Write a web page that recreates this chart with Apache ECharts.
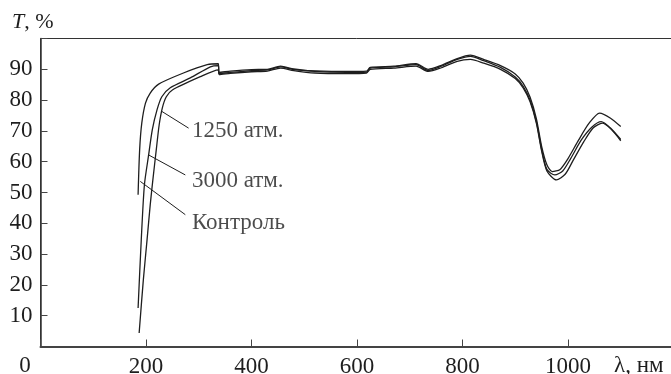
<!DOCTYPE html>
<html><head><meta charset="utf-8">
<script src="https://cdn.jsdelivr.net/npm/echarts@6/dist/echarts.min.js"></script>
<style>html,body{margin:0;padding:0;background:#fff}#c{width:671px;height:374px}</style>
</head><body><div id="c"></div>
<script>
// wavelength (nm), transmittance (%)
const control = [[185,49.3],[188,64],[192,72.5],[199,79],[208,82.3],[224,85.2],[271,88.8],[316,91.5],[337,91.8],[338.5,88.6],[360,89.0],[400,89.6],[430,89.8],[455,90.8],[480,89.9],[520,89.5],[580,89.3],[618,89.4],[625,90.6],[670,91.0],[712,91.8],[735,90.0],[760,91.3],[790,93.5],[815,94.6],[840,93.2],[872,91.2],[900,88.5],[915,85.5],[928,81],[940,74],[950,65],[960,59],[970,56.8],[985,57.5],[1000,61],[1020,67],[1040,72.5],[1060,75.8],[1080,74.2],[1100,71.4]];
const atm3000 = [[185,12.5],[191,34.6],[197,52.5],[205,62.2],[212,70.4],[221,76.9],[230,81.1],[246,84],[284,87.2],[322,90.8],[337,91.2],[338.5,89.0],[360,89.4],[400,89.9],[430,90.0],[455,91.0],[480,90.1],[520,89.3],[580,89.0],[618,89.1],[625,90.4],[670,90.8],[712,91.5],[735,89.6],[760,91.0],[790,93.2],[815,94.2],[840,92.8],[872,90.6],[900,87.5],[915,84.5],[928,80],[940,73],[950,64],[960,57.5],[975,55.7],[990,57],[1005,61],[1025,67],[1045,71.2],[1063,73],[1080,71],[1100,67.2]];
const atm1250 = [[187,4.4],[195,21.7],[202,34.6],[208,46],[213,54.1],[219.5,63.9],[225,72],[231,77.5],[238.5,81.1],[250,83.3],[303,87.6],[337,89.8],[338.5,88.3],[360,88.7],[400,89.2],[430,89.4],[455,90.4],[480,89.6],[520,88.8],[580,88.6],[618,88.8],[625,90.0],[670,90.4],[712,91.0],[735,89.3],[760,90.5],[790,92.6],[815,93.2],[840,92.0],[872,90.0],[900,87.0],[915,84.0],[928,79.5],[940,72.5],[950,63.5],[960,57],[978,54.1],[995,56],[1010,60.5],[1030,66.5],[1048,71],[1065,72.5],[1082,70.5],[1100,66.8]];
const labelTexts = ['1250 атм.', '3000 атм.', 'Контроль'];
const labelPos = [[287,69.9],[287,53.6],[287,40.0]];
const leaders = [[[230.3,76.3],[280.8,70.9]], [[204.9,62.2],[274.5,55.7]], [[189.2,53.6],[274.5,42.8]]];
const xTicks = [200, 400, 600, 800, 1000];
const yTicks = [10, 20, 30, 40, 50, 60, 70, 80, 90];

const FONT = '"Liberation Serif", "DejaVu Serif", serif';
const FS = 23;
const INK = '#1e1e1e';
const chart = echarts.init(document.getElementById('c'), null, {renderer: 'canvas'});
const curve = (name, data) => ({
  name, type: 'line', data, showSymbol: false, symbol: 'none', smooth: 0.25,
  lineStyle: {color: INK, width: 1.3}, silent: true, z: 3
});
const series = [curve('Контроль', control), curve('3000 атм.', atm3000), curve('1250 атм.', atm1250)];
leaders.forEach(l => series.push({type: 'line', data: l, showSymbol: false, symbol: 'none',
  lineStyle: {color: INK, width: 1}, silent: true}));
series.push({
  type: 'scatter', symbolSize: 0, silent: true,
  data: labelPos.map((p, i) => ({value: p, name: labelTexts[i]})),
  label: {show: true, position: 'right', distance: 0, formatter: p => p.name,
    fontFamily: FONT, fontSize: FS, color: INK}
});
chart.setOption({
  animation: false,
  backgroundColor: '#fff',
  grid: {left: 40.5, top: 38.5, width: 633, height: 308, show: true, borderColor: '#333', borderWidth: 1,
    containLabel: false, outerBoundsMode: 'none'},
  xAxis: {
    type: 'value', min: 0, max: 1200, interval: 200,
    axisLine: {show: true, lineStyle: {color: '#444', width: 2}},
    axisTick: {show: true, inside: true, length: 7, lineStyle: {color: '#444', width: 1}},
    splitLine: {show: false},
    axisLabel: {margin: 9, fontFamily: FONT, fontSize: FS, color: INK,
      formatter: v => xTicks.includes(v) ? String(v) : ''}
  },
  yAxis: {
    type: 'value', min: 0, max: 100, interval: 10,
    axisLine: {show: true, lineStyle: {color: '#333', width: 1.5}},
    axisTick: {show: true, inside: true, length: 7, lineStyle: {color: '#444', width: 1}},
    splitLine: {show: false},
    axisLabel: {margin: 8, fontFamily: FONT, fontSize: FS, color: INK,
      formatter: v => yTicks.includes(v) ? String(v) : ''}
  },
  graphic: [
    {type: 'text', left: 12, top: 11, style: {
      text: '{i|T}, %', fontFamily: FONT, fontSize: 22, fill: INK,
      rich: {i: {fontStyle: 'italic', fontFamily: FONT, fontSize: 22}}}},
    {type: 'text', x: 25, y: 366, style: {text: '0', fontFamily: FONT, fontSize: FS, fill: INK,
      align: 'center', verticalAlign: 'middle'}},
    {type: 'text', x: 614, y: 366, style: {text: 'λ, нм', fontFamily: FONT, fontSize: FS, fill: INK,
      align: 'left', verticalAlign: 'middle'}}
  ],
  series
});
</script></body></html>
